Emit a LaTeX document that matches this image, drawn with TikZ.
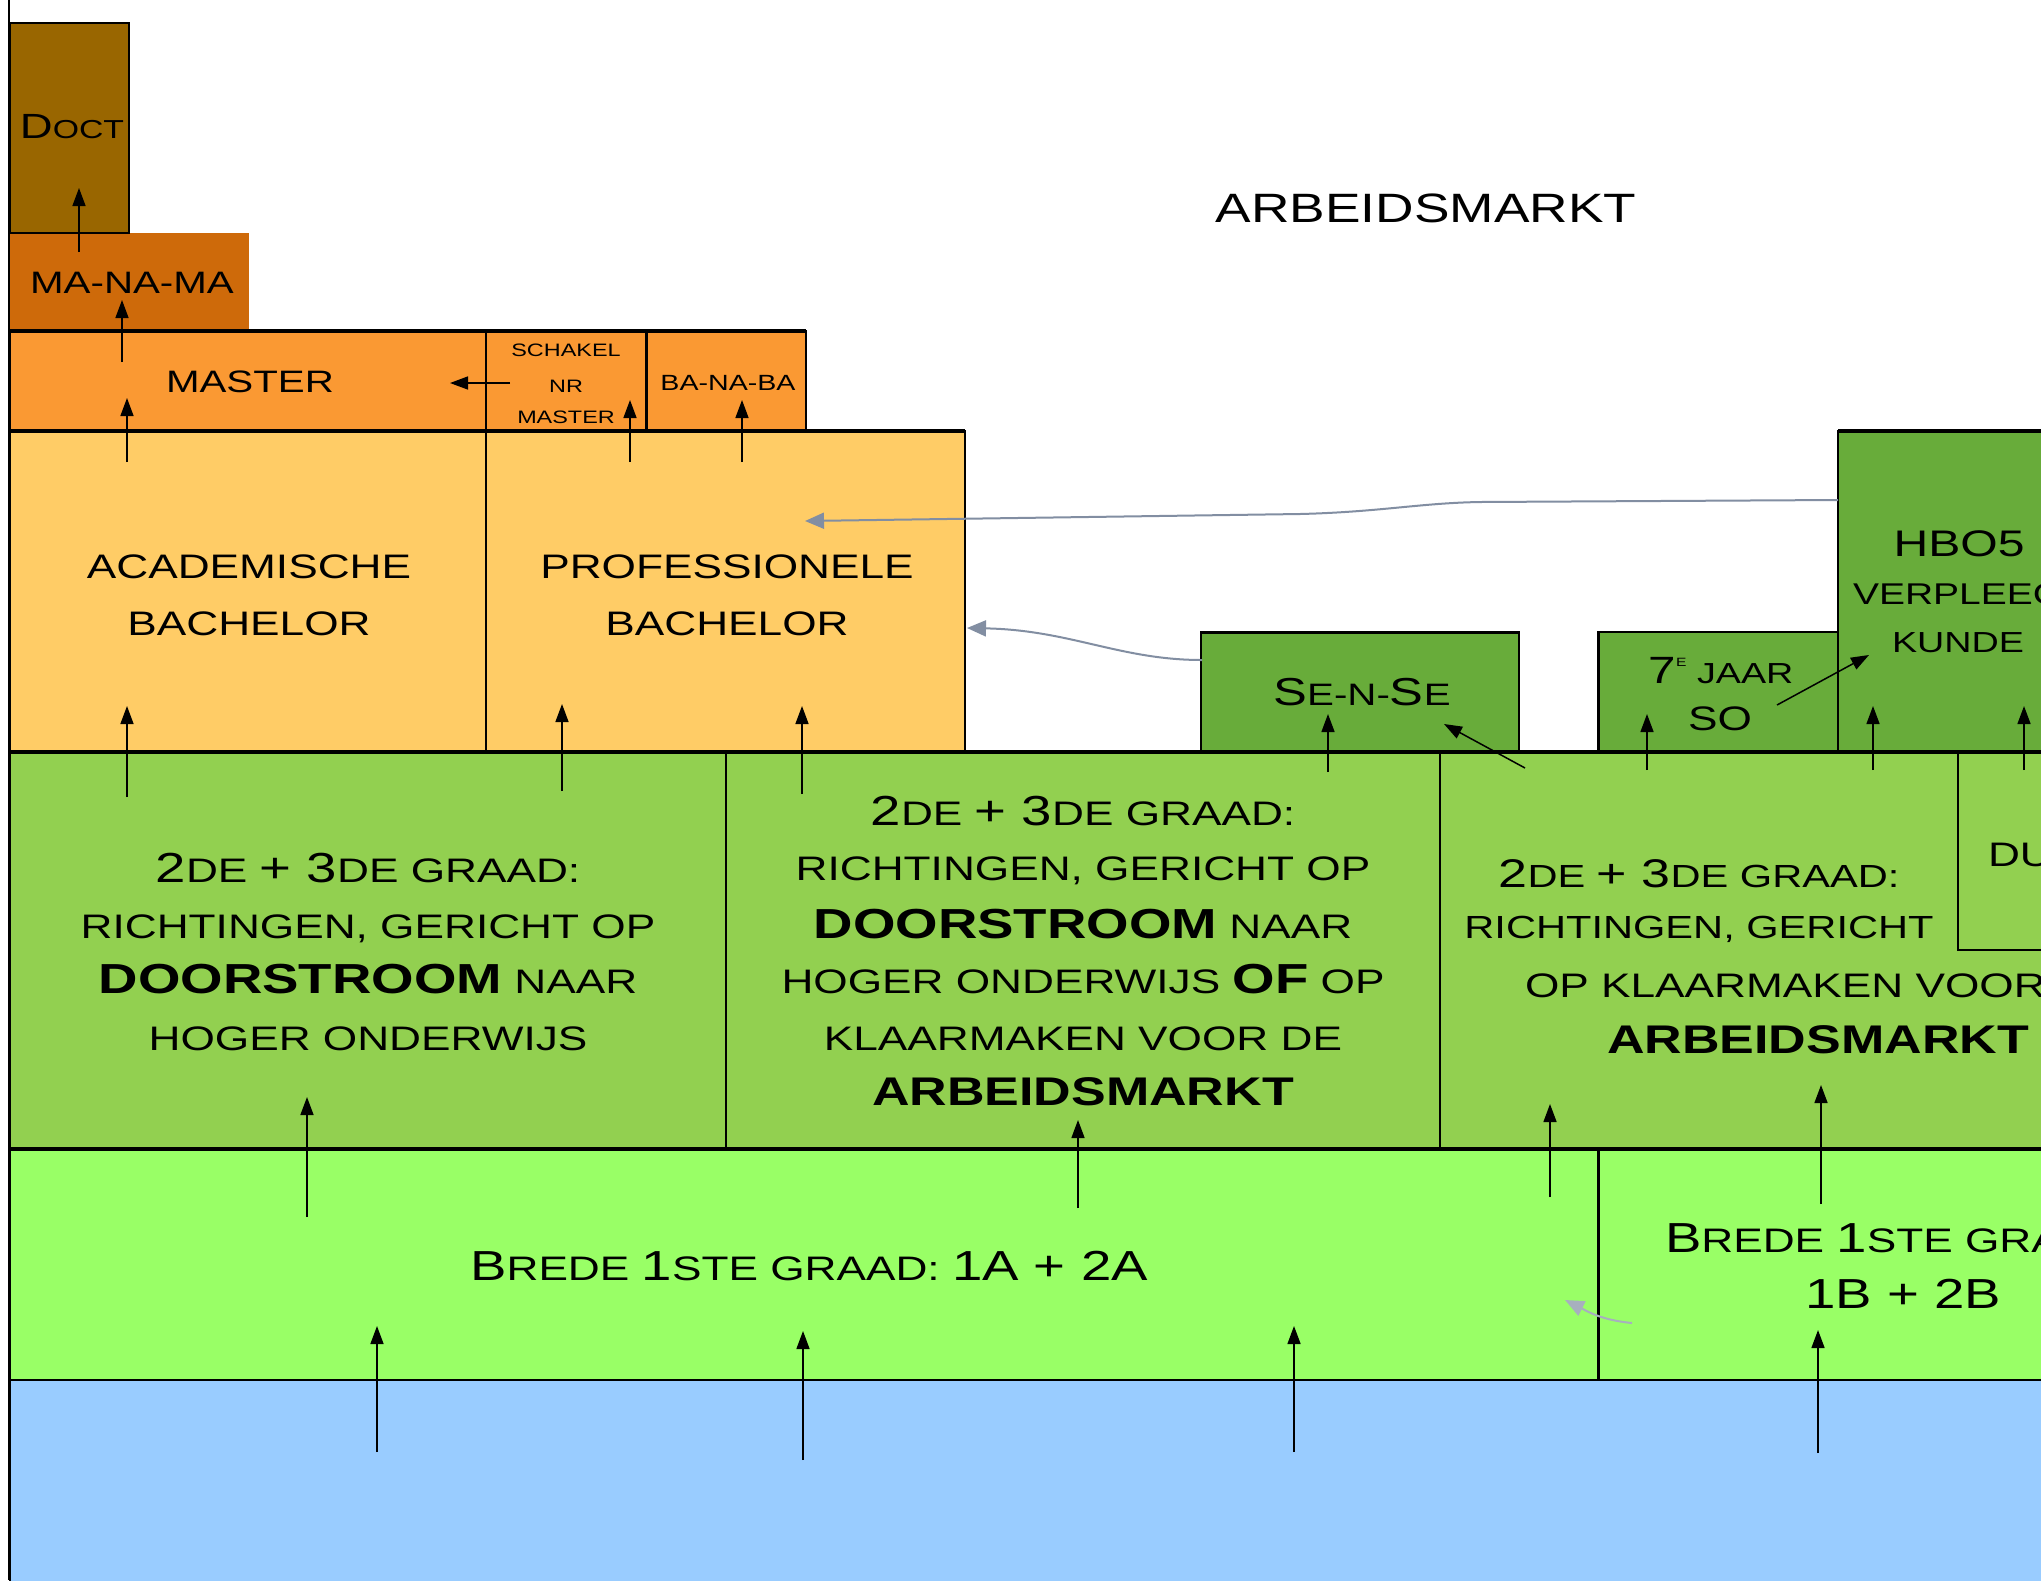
\documentclass[tikz,border=0pt]{standalone}
\usepackage{fontspec}
\setmainfont{Liberation Sans}[FakeStretch=1.3]
\usetikzlibrary{arrows.meta}
\definecolor{cDoct}{RGB}{153,102,0}
\definecolor{cManama}{RGB}{206,106,10}
\definecolor{cMaster}{RGB}{250,153,51}
\definecolor{cBach}{RGB}{255,204,102}
\definecolor{cDkGreen}{RGB}{104,172,58}
\definecolor{cGreen}{RGB}{146,208,80}
\definecolor{cLime}{RGB}{153,255,102}
\definecolor{cBlue}{RGB}{153,204,255}
\definecolor{cGreyArr}{RGB}{130,142,162}
\newcommand\fs[1]{\fontsize{#1}{#1}\selectfont}
\newcommand\bigc[2]{{\fs{#1}#2}}
\newcommand\bigb[2]{{\fs{#1}\bfseries #2}}
\newcommand\bx[7][box]{\node[#1,fill=#7,minimum width={(#5-#3)*1pt},minimum height={(#6-#4)*1pt}] (#2) at (#3,#4) {};}
\newcommand\arw[6][arr]{\coordinate (#2t) at (#3,#4); \coordinate (#2h) at (#5,#6); \draw[#1] (#2t) -- (#2h);}
\begin{document}
\begin{tikzpicture}[x=1pt,y=-1pt,
  box/.style={draw=black,line width=1.5pt,inner sep=0pt,outer sep=0pt,anchor=north west},
  nobox/.style={inner sep=0pt,outer sep=0pt,anchor=north west},
  txt/.style={anchor=base,inner sep=0pt,outer sep=0pt,text=black},
  txtw/.style={anchor=base west,inner sep=0pt,outer sep=0pt,text=black},
  arr/.style={line width=1.5pt,draw=black,-{Triangle[length=18pt,width=13pt]}},
  garr/.style={line width=2pt,draw=cGreyArr,-{Triangle[length=19pt,width=16pt]}},
  thick4/.style={line width=4pt,draw=black},
  thick3/.style={line width=3pt,draw=black}]
\useasboundingbox (0,0) rectangle (2041,1580);
\clip (0,0) rectangle (2041,1580);
\fill[white] (0,0) rectangle (2041,1580);
% boxes
\bx[nobox]{manama}{10}{233}{249}{331}{cManama}
\bx{doct}{10}{23}{129}{233}{cDoct}
\bx{master}{10}{331}{486}{431}{cMaster}
\bx{schakel}{486}{331}{646}{431}{cMaster}
\bx{banaba}{646}{331}{806}{431}{cMaster}
\bx{acad}{10}{431}{486}{752}{cBach}
\bx{prof}{486}{431}{965}{752}{cBach}
\bx{sense}{1201}{632}{1519}{752}{cDkGreen}
\bx{zeven}{1598}{632}{1838}{752}{cDkGreen}
\bx{hbo}{1838}{431}{2070}{752}{cDkGreen}
\bx{gA}{10}{752}{726}{1149}{cGreen}
\bx{gB}{726}{752}{1440}{1149}{cGreen}
\bx{gC}{1440}{752}{2070}{1149}{cGreen}
\bx{du}{1958}{752}{2070}{950}{cGreen}
\bx{bA}{10}{1149}{1598}{1380}{cLime}
\bx{bB}{1598}{1149}{2070}{1380}{cLime}
\bx{blue}{10}{1380}{2070}{1610}{cBlue}
% heavy edges
\draw[thick4] (master.north west) -- (banaba.north east);
\draw[thick4] (acad.north west) -- (prof.north east);
\draw[thick4] (hbo.north west) -- (hbo.north east);
\draw[thick4] (gA.north west) -- (gC.north east);
\draw[thick4] (bA.north west) -- (bB.north east);
\draw[line width=2.5pt] (blue.north west) -- (blue.north east);
\draw[thick3] (sense.north west) -- (sense.north east);
\draw[thick3] (zeven.north west) -- (zeven.south west);
\draw[thick3] (bB.north west) -- (bB.south west);
\draw[thick3] (schakel.north east) -- (schakel.south east);
\draw[line width=2pt] (9,0) -- (9,1580);
% texts
\node[txt] (tTitle) at (1426,222) {\fs{41}ARBEIDSMARKT};
\node[txt] (tDoct) at (72,138) {\fs{26}\bigc{35}{D}OCT};
\node[txt] (tManama) at (132,293) {\fs{31}MA-NA-MA};
\node[txt] (tMaster) at (250,392) {\fs{31}MASTER};
\node[txt] (tSch1) at (566,356) {\fs{18}SCHAKEL};
\node[txt] (tSch2) at (566,392) {\fs{18}NR};
\node[txt] (tSch3) at (566,423) {\fs{18}MASTER};
\node[txt] (tBanaba) at (728,390) {\fs{22}BA-NA-BA};
\node[txt] (tAcad1) at (249,578) {\fs{34}ACADEMISCHE};
\node[txt] (tAcad2) at (249,635) {\fs{34}BACHELOR};
\node[txt] (tProf1) at (727,578) {\fs{34}PROFESSIONELE};
\node[txt] (tProf2) at (727,635) {\fs{34}BACHELOR};
\node[txt] (tSense) at (1362,705) {\fs{31}\bigc{39}{S}E-N-\bigc{39}{S}E};
\node[txt] (tZeven1) at (1721,683) {\fs{29}\bigc{38}{7}\raisebox{17pt}{\fs{12}E} JAAR};
\node[txt] (tZeven2) at (1720,730) {\fs{34}SO};
\node[txt] (tHbo1) at (1959,556) {\fs{37}HBO5};
\node[txtw] (tHbo2) at (1853,604) {\fs{30}VERPLEEG};
\node[txt] (tHbo3) at (1958,652) {\fs{29}KUNDE};
\node[txtw] (tDu) at (1988,866) {\fs{34}DU};
% green A
\node[txt] (tgA1) at (368,882) {\fs{34}\bigc{42}{2}DE \bigc{42}{+ 3}DE GRAAD:};
\node[txt] (tgA2) at (368,938) {\fs{34}RICHTINGEN, GERICHT OP};
\node[txt] (tgA3) at (368,993) {\fs{34}\bigb{42}{DOORSTROOM} NAAR};
\node[txt] (tgA4) at (368,1050) {\fs{34}HOGER ONDERWIJS};
% green B
\node[txt] (tgB1) at (1083,825) {\fs{34}\bigc{42}{2}DE \bigc{42}{+ 3}DE GRAAD:};
\node[txt] (tgB2) at (1083,880) {\fs{34}RICHTINGEN, GERICHT OP};
\node[txt] (tgB3) at (1083,938) {\fs{34}\bigb{42}{DOORSTROOM} NAAR};
\node[txt] (tgB4) at (1083,993) {\fs{34}HOGER ONDERWIJS \bigb{42}{OF} OP};
\node[txt] (tgB5) at (1083,1050) {\fs{34}KLAARMAKEN VOOR DE};
\node[txt] (tgB6) at (1083,1105) {\bigb{40}{ARBEIDSMARKT}};
% green C
\node[txt] (tgC1) at (1699,887) {\fs{32}\bigc{40}{2}DE \bigc{40}{+ 3}DE GRAAD:};
\node[txt] (tgC2) at (1699,938) {\fs{32}RICHTINGEN, GERICHT};
\node[txtw] (tgC3) at (1525,997) {\fs{34}OP KLAARMAKEN VOOR DE};
\node[txt] (tgC4) at (1818,1053) {\bigb{40}{ARBEIDSMARKT}};
% brede
\node[txt] (tbA) at (809,1280) {\fs{34}\bigc{42}{B}REDE \bigc{42}{1}STE GRAAD: \bigc{42}{1A + 2A}};
\node[txtw] (tbB1) at (1665,1252) {\fs{34}\bigc{42}{B}REDE \bigc{42}{1}STE GRAAD:};
\node[txt] (tbB2) at (1903,1308) {\fs{42}1B + 2B};
% black arrows
\arw{a1}{79}{252}{79}{188}
\arw{a2}{122}{362}{122}{300}
\arw{a3}{127}{462}{127}{398}
\arw{a4}{510}{383}{450}{383}
\arw{a5}{630}{462}{630}{400}
\arw{a6}{742}{462}{742}{400}
\arw{a7}{127}{797}{127}{706}
\arw{a8}{562}{791}{562}{704}
\arw{a9}{802}{794}{802}{706}
\arw{a10}{1328}{772}{1328}{714}
\arw{a11}{1525}{768}{1444}{724}
\arw{a12}{1647}{770}{1647}{714}
\arw{a13}{1777}{705}{1869}{655}
\arw{a14}{1873}{770}{1873}{706}
\arw{a15}{2024}{770}{2024}{706}
\arw{a16}{307}{1217}{307}{1097}
\arw{a17}{1078}{1208}{1078}{1120}
\arw{a18}{1550}{1197}{1550}{1104}
\arw{a19}{1821}{1204}{1821}{1085}
\arw{a20}{377}{1452}{377}{1326}
\arw{a21}{803}{1460}{803}{1331}
\arw{a22}{1294}{1452}{1294}{1326}
\arw{a23}{1818}{1453}{1818}{1330}
% grey arrows
\coordinate (g1t) at (1838,500);
\coordinate (g1h) at (805,521);
\draw[garr] (g1t) -- (1480,502) .. controls (1420,503) and (1380,512) .. (1300,514) -- (g1h);
\coordinate (g2t) at (1202,660);
\coordinate (g2h) at (967,628);
\draw[garr] (g2t) .. controls (1120,660) and (1070,630) .. (g2h);
\coordinate (g3t) at (1632,1323);
\coordinate (g3h) at (1565,1300);
\draw[garr,draw=cGreyArr!70] (g3t) .. controls (1600,1320) and (1585,1310) .. (g3h);
\end{tikzpicture}
\end{document}
